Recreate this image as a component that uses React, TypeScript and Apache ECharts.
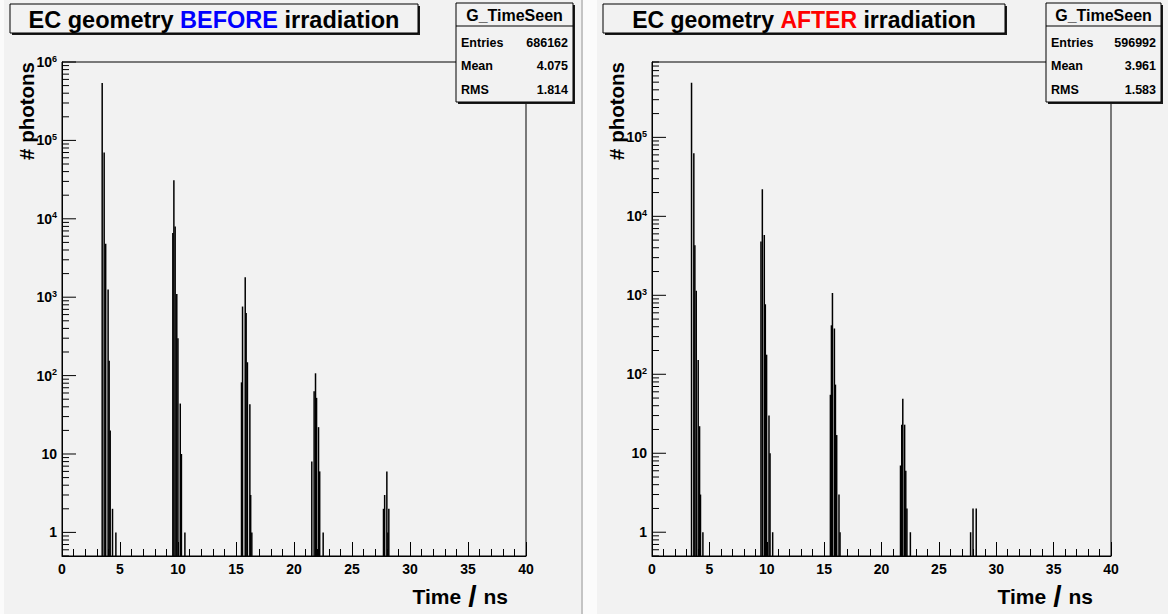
import { useEffect, useRef } from 'react';
import * as echarts from 'echarts';

const FONT = '"Liberation Sans", Arial, Helvetica, sans-serif';

// Histogram axes
const X_MIN = 0;
const X_MAX = 40;
const X_STEP = 5;
const BIN_WIDTH = 0.1;
const Y_MIN = 0.5;
const Y_MAX_BEFORE = 1e6;
const Y_MAX_AFTER = 9.0e5;
const Y_TICK_MULTIPLIERS = [1, 2, 3, 4, 5, 6, 7, 8, 9];
const Y_DECADES = [0.1, 1, 10, 100, 1000, 10000, 100000, 1000000];

// BEFORE irradiation (bin centre in ns, photon count)
const beforeTimes = [
  3.45, 3.62, 3.75, 3.96, 4.05, 4.14, 4.34, 4.63,
  9.54, 9.63, 9.74, 9.88, 9.98, 10.18, 10.28, 10.58,
  15.46, 15.55, 15.78, 15.86, 15.97, 16.18, 16.25, 16.35,
  21.52, 21.72, 21.84, 21.93, 22.1, 22.2, 22.5,
  27.7, 27.8, 27.99, 28.08, 28.16,
];
const beforeCounts = [
  540000, 70000, 4800, 1250, 155, 20, 2, 1,
  6600, 31000, 8000, 1100, 300, 44, 10, 1,
  82, 760, 1800, 630, 148, 43, 3, 1,
  8, 63, 107, 52, 22, 6, 1,
  2, 3, 6, 1, 2,
];

// AFTER irradiation
const afterTimes = [
  3.43, 3.63, 3.72, 3.84, 4.01, 4.13, 4.21, 4.42,
  9.48, 9.6, 9.77, 9.86, 9.97, 10.18, 10.27, 10.5,
  15.53, 15.62, 15.71, 15.88, 15.97, 16.08, 16.28, 16.37,
  21.64, 21.75, 21.84, 22.0, 22.1, 22.2, 22.5,
  27.75, 27.96, 28.24,
];
const afterCounts = [
  490000, 63000, 4300, 1140, 152, 22, 3, 1,
  4800, 22000, 5800, 770, 177, 30, 10, 1,
  55, 417, 1070, 380, 74, 17, 3, 1,
  7, 23, 49, 23, 6, 2, 1,
  1, 2, 2,
];

const statLabels = ['Entries', 'Mean', 'RMS'];
const beforeStats = ['686162', '4.075', '1.814'];
const afterStats = ['596992', '3.961', '1.583'];

const HIST_NAME = 'G_TimeSeen';
const X_TITLE = ['Time', '/', 'ns'];
const Y_TITLE = '# photons';

const panels = [
  {
    times: beforeTimes, counts: beforeCounts, stats: beforeStats, yMax: Y_MAX_BEFORE,
    titleWord: 'BEFORE', titleColor: '#0000ff',
    grid: { left: 62, right: 1168 - 526, top: 62, bottom: 614 - 556 },
    titleBox: { x: 10, y: 4, w: 408, h: 29, fs: 23.5 },
    statBox: { x: 456, y: 3, w: 117, h: 99 },
    yTitleX: 26, xTitleRight: 508,
  },
  {
    times: afterTimes, counts: afterCounts, stats: afterStats, yMax: Y_MAX_AFTER,
    titleWord: 'AFTER', titleColor: '#ff0000',
    grid: { left: 652, right: 1168 - 1111, top: 62, bottom: 614 - 556 },
    titleBox: { x: 603, y: 4, w: 402, h: 29, fs: 23 },
    statBox: { x: 1046, y: 3, w: 115, h: 99 },
    yTitleX: 616, xTitleRight: 1093,
  },
];

function yLabel(v: number): string {
  const l = Math.log10(v);
  const e = Math.round(l);
  if (Math.abs(l - e) > 1e-6) return '';
  if (e === 0) return '{p|1}';
  if (e === 1) return '{p|10}';
  return `{b|10}{s|${e}}`;
}

function buildOption() {
  const grids: any[] = [];
  const xAxes: any[] = [];
  const yAxes: any[] = [];
  const series: any[] = [];
  const graphics: any[] = [];

  // page chrome
  graphics.push({ type: 'rect', z: 1, shape: { x: 0, y: 0, width: 4, height: 614 }, style: { fill: '#fbfbfb' } });
  graphics.push({ type: 'rect', z: 1, shape: { x: 581, y: 0, width: 2, height: 614 }, style: { fill: '#c4c4c4' } });
  graphics.push({ type: 'rect', z: 1, shape: { x: 583, y: 0, width: 14, height: 614 }, style: { fill: '#fbfbfb' } });

  panels.forEach((p, i) => {
    grids.push({
      ...p.grid, show: true, borderColor: '#000', borderWidth: 1, backgroundColor: 'transparent',
    });
    xAxes.push({
      type: 'value', gridIndex: i, min: X_MIN, max: X_MAX, interval: X_STEP,
      axisLine: { show: true, onZero: false, lineStyle: { color: '#000', width: 1 } },
      axisTick: { show: true, inside: true, length: 14, lineStyle: { color: '#000', width: 1 } },
      minorTick: { show: true, splitNumber: 5, length: 7, lineStyle: { color: '#000', width: 1 } },
      splitLine: { show: false },
      axisLabel: { color: '#000', fontFamily: FONT, fontWeight: 'bold', fontSize: 14, margin: 6 },
    });
    yAxes.push({
      type: 'log', logBase: 10, gridIndex: i, min: Y_MIN, max: p.yMax,
      axisLine: { show: true, lineStyle: { color: '#000', width: 1 } },
      axisTick: { show: false },
      splitLine: { show: false },
      axisLabel: {
        color: '#000', margin: 5, formatter: yLabel,
        rich: {
          p: { fontFamily: FONT, fontWeight: 'bold', fontSize: 14, lineHeight: 14, color: '#000' },
          b: { fontFamily: FONT, fontWeight: 'bold', fontSize: 14, lineHeight: 14, padding: [10, 0, 0, 0], verticalAlign: 'bottom', color: '#000' },
          s: { fontFamily: FONT, fontWeight: 'bold', fontSize: 9, lineHeight: 9, padding: [0, 0, 6, 0], verticalAlign: 'bottom', color: '#000' },
        },
      },
    });

    const data = p.times.map((t, k) => [t, p.counts[k]]);
    series.push({
      type: 'custom', coordinateSystem: 'cartesian2d', xAxisIndex: i, yAxisIndex: i,
      silent: true, clip: true, encode: { x: 0, y: 1 }, data,
      renderItem: (_params: any, api: any) => {
        const t = api.value(0);
        const v = api.value(1);
        const a = api.coord([t - BIN_WIDTH / 2, v]);
        const b = api.coord([t + BIN_WIDTH / 2, Y_MIN]);
        const w = Math.max(b[0] - a[0], 1.5);
        return {
          type: 'rect',
          shape: { x: a[0], y: a[1], width: w, height: b[1] - a[1] },
          style: { fill: '#000' },
        };
      },
    });

    const ticks: number[][] = [];
    Y_DECADES.forEach((d) => {
      Y_TICK_MULTIPLIERS.forEach((m) => {
        const v = m * d;
        if (v >= Y_MIN && v <= p.yMax * 1.0000001) ticks.push([X_MIN, v, m === 1 ? 14 : 7]);
      });
    });
    series.push({
      type: 'custom', coordinateSystem: 'cartesian2d', xAxisIndex: i, yAxisIndex: i,
      silent: true, clip: false, encode: { x: 0, y: 1 }, data: ticks,
      renderItem: (_params: any, api: any) => {
        const c = api.coord([api.value(0), api.value(1)]);
        const len = api.value(2);
        return {
          type: 'line',
          shape: { x1: c[0], y1: c[1], x2: c[0] + len, y2: c[1] },
          style: { stroke: '#000', lineWidth: 1 },
        };
      },
    });

    // title box
    const tb = p.titleBox;
    graphics.push({ type: 'rect', z: 50, shape: { x: tb.x + 2, y: tb.y + 2, width: tb.w, height: tb.h }, style: { fill: '#1a1a1a' } });
    graphics.push({ type: 'rect', z: 51, shape: { x: tb.x, y: tb.y, width: tb.w, height: tb.h }, style: { fill: '#f2f2f2', stroke: '#000', lineWidth: 1 } });
    graphics.push({
      type: 'text', z: 52, x: tb.x + tb.w / 2, y: tb.y + tb.h / 2 + 1,
      style: {
        text: `{k|EC geometry }{c|${p.titleWord}}{k| irradiation}`,
        align: 'center', verticalAlign: 'middle',
        rich: {
          k: { fontFamily: FONT, fontWeight: 'bold', fontSize: tb.fs, fill: '#000' },
          c: { fontFamily: FONT, fontWeight: 'bold', fontSize: tb.fs, fill: p.titleColor },
        },
      },
    });

    // stats box
    const sb = p.statBox;
    graphics.push({ type: 'rect', z: 50, shape: { x: sb.x + 2, y: sb.y + 2, width: sb.w, height: sb.h }, style: { fill: '#1a1a1a' } });
    graphics.push({ type: 'rect', z: 51, shape: { x: sb.x, y: sb.y, width: sb.w, height: sb.h }, style: { fill: '#f2f2f2', stroke: '#000', lineWidth: 1 } });
    graphics.push({ type: 'line', z: 52, shape: { x1: sb.x, y1: sb.y + 23, x2: sb.x + sb.w, y2: sb.y + 23 }, style: { stroke: '#000', lineWidth: 1 } });
    graphics.push({
      type: 'text', z: 53, x: sb.x + sb.w / 2, y: sb.y + 12.5,
      style: { text: HIST_NAME, align: 'center', verticalAlign: 'middle', fontFamily: FONT, fontWeight: 'bold', fontSize: 16, fill: '#000' },
    });
    statLabels.forEach((lab, r) => {
      const cy = sb.y + 39.5 + r * 23.5;
      graphics.push({
        type: 'text', z: 53, x: sb.x + 5, y: cy,
        style: { text: lab, align: 'left', verticalAlign: 'middle', fontFamily: FONT, fontWeight: 'bold', fontSize: 12.5, fill: '#000' },
      });
      graphics.push({
        type: 'text', z: 53, x: sb.x + sb.w - 5, y: cy,
        style: { text: p.stats[r], align: 'right', verticalAlign: 'middle', fontFamily: FONT, fontWeight: 'bold', fontSize: 12.5, fill: '#000' },
      });
    });

    // axis titles
    graphics.push({
      type: 'text', z: 53, x: p.yTitleX, y: 62, rotation: Math.PI / 2,
      style: { text: Y_TITLE, align: 'right', verticalAlign: 'middle', fontFamily: FONT, fontWeight: 'bold', fontSize: 20.5, fill: '#000' },
    });
    graphics.push({
      type: 'text', z: 53, x: p.xTitleRight, y: 596,
      style: {
        text: `{t|${X_TITLE[0]}}{s|${X_TITLE[1]}}{t|${X_TITLE[2]}}`,
        align: 'right', verticalAlign: 'middle',
        rich: {
          t: { fontFamily: FONT, fontWeight: 'bold', fontSize: 21, lineHeight: 34, fill: '#000' },
          s: { fontFamily: FONT, fontWeight: 'bold', fontSize: 30, lineHeight: 34, fill: '#000', padding: [0, 7, 0, 7] },
        },
      },
    });
  });

  return {
    animation: false,
    backgroundColor: '#f2f2f2',
    grid: grids,
    xAxis: xAxes,
    yAxis: yAxes,
    series,
    graphic: graphics,
  };
}

export default function App() {
  const ref = useRef<HTMLDivElement>(null);
  useEffect(() => {
    if (!ref.current) return;
    const chart = echarts.init(ref.current, undefined, { renderer: 'svg' });
    chart.setOption(buildOption() as any);
    return () => chart.dispose();
  }, []);
  return <div ref={ref} style={{ position: 'fixed', left: 0, top: 0, width: 1168, height: 614 }} />;
}
